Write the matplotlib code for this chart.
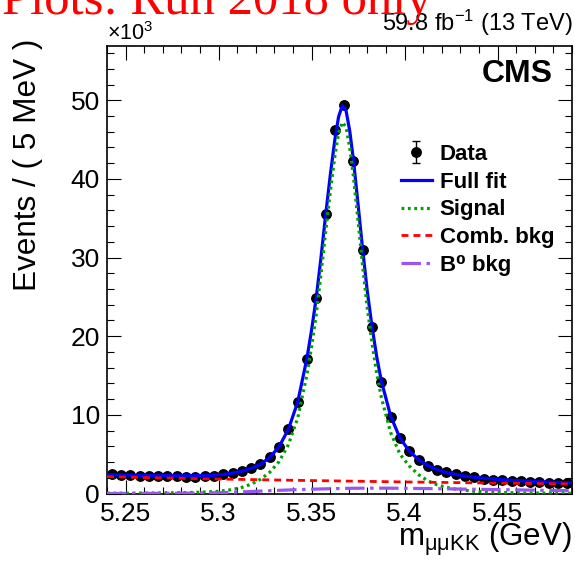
import numpy as np
import matplotlib
matplotlib.use("Agg")
import matplotlib.pyplot as plt
from matplotlib.ticker import FixedLocator, FixedFormatter, MultipleLocator

plt.rcParams.update({
    "font.family": ["Liberation Sans", "DejaVu Sans"],
    "mathtext.fontset": "custom",
    "mathtext.rm": "Liberation Sans",
    "mathtext.it": "Liberation Sans:italic",
    "mathtext.bf": "Liberation Sans:bold",
    "lines.scale_dashes": False,
})

# ---- binning of the mass spectrum (GeV) ----
bin_lo, bin_hi, bin_width = 5.24, 5.49, 0.005

# events per bin, in thousands
events_k = [
    2.44, 2.35, 2.35, 2.26, 2.26, 2.22, 2.22, 2.22, 2.13, 2.13,
    2.26, 2.26, 2.44, 2.60, 2.86, 3.20, 3.71, 4.60, 5.95, 8.16,
    11.59, 17.15, 24.80, 35.55, 46.19, 49.36, 42.29, 30.94, 21.12, 14.20,
    9.76, 7.01, 5.44, 4.26, 3.49, 2.99, 2.69, 2.44, 2.22, 2.06,
    1.88, 1.72, 1.72, 1.63, 1.55, 1.50, 1.50, 1.37, 1.30, 1.33,
]

# total fit model (thousands)
fit_x = [5.2400, 5.2500, 5.2600, 5.2700, 5.2800, 5.2900, 5.2975, 5.3025,
         5.3075, 5.3125, 5.3175, 5.3225, 5.3275, 5.3325, 5.3375, 5.3425,
         5.3475, 5.3500, 5.3525, 5.3550, 5.3575, 5.3600, 5.3625, 5.3645,
         5.3665, 5.3685, 5.3705, 5.3725, 5.3750, 5.3775, 5.3800, 5.3825,
         5.3850, 5.3875, 5.3925, 5.3975, 5.4025, 5.4075, 5.4125, 5.4175,
         5.4225, 5.4275, 5.4325, 5.4375, 5.4425, 5.4525, 5.4625, 5.4725,
         5.4825, 5.4900]
fit_y = [2.40, 2.35, 2.30, 2.27, 2.25, 2.27, 2.33, 2.43,
         2.59, 2.84, 3.20, 3.72, 4.58, 5.95, 8.15, 11.60,
         17.20, 20.80, 24.90, 29.90, 35.30, 40.40, 45.00, 47.90,
         49.30, 48.70, 46.10, 42.40, 36.70, 30.90, 25.60, 21.20,
         17.40, 14.30, 9.85, 7.05, 5.40, 4.30, 3.55, 3.02,
         2.66, 2.42, 2.22, 2.07, 1.94, 1.75, 1.61, 1.50,
         1.40, 1.35]

# signal component (thousands)
sig_x = [5.2400, 5.2600, 5.2800, 5.2900, 5.3000, 5.3075, 5.3125, 5.3175,
         5.3225, 5.3275, 5.3325, 5.3375, 5.3425, 5.3475, 5.3500, 5.3525,
         5.3550, 5.3575, 5.3600, 5.3625, 5.3645, 5.3665, 5.3685, 5.3705,
         5.3725, 5.3750, 5.3775, 5.3800, 5.3825, 5.3850, 5.3875, 5.3925,
         5.3975, 5.4025, 5.4075, 5.4125, 5.4175, 5.4225, 5.4275, 5.4375,
         5.4475, 5.4625, 5.4900]
sig_y = [0.03, 0.05, 0.10, 0.16, 0.28, 0.50, 0.78, 1.18,
         1.80, 2.70, 4.05, 6.20, 9.55, 15.10, 18.70, 22.80,
         27.80, 33.20, 38.30, 42.90, 45.80, 47.20, 46.60, 44.00,
         40.30, 34.60, 28.80, 23.50, 19.10, 15.30, 12.20, 7.75,
         5.00, 3.50, 2.40, 1.60, 1.10, 0.78, 0.55, 0.28,
         0.15, 0.07, 0.03]

# combinatorial background (thousands)
comb_x = [5.24, 5.26, 5.28, 5.30, 5.32, 5.34, 5.36, 5.38, 5.40, 5.42,
          5.44, 5.46, 5.48, 5.49]
comb_y = [2.15, 2.03, 1.93, 1.84, 1.76, 1.68, 1.61, 1.54, 1.47, 1.41,
          1.35, 1.30, 1.24, 1.22]

# B0 peaking background (thousands)
b0_x = [5.24, 5.26, 5.28, 5.30, 5.31, 5.32, 5.33, 5.34, 5.35, 5.36,
        5.37, 5.38, 5.39, 5.40, 5.42, 5.44, 5.46, 5.48, 5.49]
b0_y = [0.00, 0.01, 0.03, 0.10, 0.18, 0.28, 0.38, 0.47, 0.55, 0.61,
        0.66, 0.68, 0.68, 0.66, 0.60, 0.53, 0.46, 0.39, 0.35]

x_ticks = [5.25, 5.30, 5.35, 5.40, 5.45]
x_ticklabels = ["5.25", "5.3", "5.35", "5.4", "5.45"]
y_ticks = [0, 10, 20, 30, 40, 50]
y_ticklabels = ["0", "10", "20", "30", "40", "50"]
y_max = 56.9

legend_labels = ["Data", "Full fit", "Signal", "Comb. bkg", "B\u2070 bkg"]

# ---- figure ----
W, H = 575, 562
fig = plt.figure(figsize=(W / 100, H / 100), dpi=100)
ax_l, ax_r, ax_t, ax_b = 107, 572, 46, 493.5
ax = fig.add_axes([ax_l / W, 1 - ax_b / H, (ax_r - ax_l) / W, (ax_b - ax_t) / H])

edges = np.arange(bin_lo, bin_hi + bin_width / 2, bin_width)
centers = 0.5 * (edges[:-1] + edges[1:])
counts = np.array(events_k)
errs = np.sqrt(counts * 1000.0) / 1000.0

h_data = ax.errorbar(centers, counts, yerr=errs, fmt="o", color="black",
                     ms=6.8, elinewidth=1.0, capsize=3, capthick=1.0, zorder=3)
h_fit, = ax.plot(fit_x, fit_y, color="#0000ff", lw=2.3, zorder=4)
h_sig, = ax.plot(sig_x, sig_y, color="#00a000", lw=2.3,
                 linestyle=(0, (2.0, 2.6)), zorder=5)
h_comb, = ax.plot(comb_x, comb_y, color="#ff0000", lw=2.0,
                  linestyle=(0, (5.0, 3.6)), zorder=5)
h_b0, = ax.plot(b0_x, b0_y, color="#9955f0", lw=2.3,
                linestyle=(0, (14.0, 4.0, 2.5, 4.0)), zorder=5)

ax.set_xlim(bin_lo, bin_hi)
ax.set_ylim(0, y_max)

ax.xaxis.set_major_locator(FixedLocator(x_ticks))
ax.xaxis.set_major_formatter(FixedFormatter(x_ticklabels))
ax.xaxis.set_minor_locator(MultipleLocator(0.01))
ax.yaxis.set_major_locator(FixedLocator(y_ticks))
ax.yaxis.set_major_formatter(FixedFormatter(y_ticklabels))
ax.yaxis.set_minor_locator(MultipleLocator(2))

ax.tick_params(which="both", direction="in", top=True, right=True,
               labelsize=19, color="black", width=0.8)
ax.tick_params(which="major", length=10)
ax.tick_params(which="minor", length=5)
ax.tick_params(axis="x", pad=6)
ax.tick_params(axis="y", pad=5)
for s in ax.spines.values():
    s.set_linewidth(1.2)

# axis titles
fig.text(572 / W, 1 - 546 / H, r"m$_{\mathrm{μμKK}}$ (GeV)", fontsize=22.5,
         ha="right", va="baseline")
fig.text(28 / W, 1 - 39 / H, "Events / ( 5 MeV )", fontsize=22.7,
         rotation=90, ha="center", va="top")

# annotations
fig.text(ax_l / W, 1 - 40.5 / H, r"×10$^{3}$", fontsize=15.5, ha="left", va="baseline")
fig.text(573 / W, 1 - 31 / H, r"59.8 fb$^{-1}$ (13 TeV)", fontsize=17,
         ha="right", va="baseline")
fig.text(553 / W, 1 - 82 / H, "CMS", fontsize=23, fontweight="bold",
         ha="right", va="baseline")
fig.text(2 / W, 1 - 14 / H, "Plots: Run 2018 only", fontsize=36.5, color="#ff0000",
         family="Liberation Serif", ha="left", va="baseline")

leg = ax.legend([h_data, h_fit, h_sig, h_comb, h_b0], legend_labels,
                loc="upper left", bbox_to_anchor=((400.7 - ax_l) / (ax_r - ax_l),
                                                  (ax_b - 144) / (ax_b - ax_t)),
                frameon=False, prop={"weight": "bold", "size": 16},
                handlelength=1.4, handletextpad=0.35, labelspacing=0.3,
                borderpad=0, borderaxespad=0)

fig.savefig("out.png", dpi=100)
